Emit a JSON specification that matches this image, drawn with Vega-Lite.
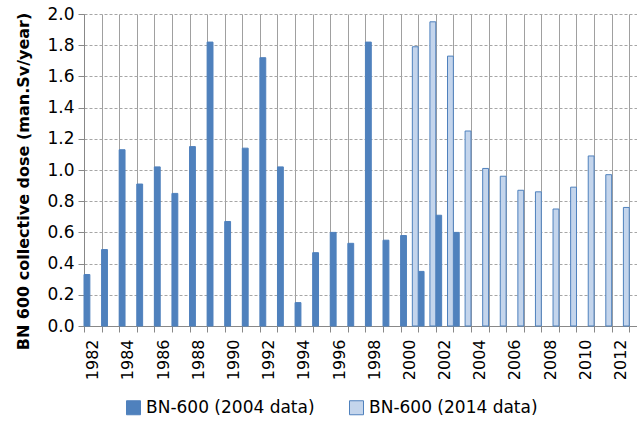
{
  "$schema": "https://vega.github.io/schema/vega-lite/v6.json",
  "width": 553,
  "height": 312,
  "autosize": {"type": "none"},
  "padding": {"left": 84, "top": 14, "right": 0, "bottom": 96},
  "background": "white",
  "config": {"view": {"stroke": null}, "font": "DejaVu Sans"},
  "data": {
    "values": [
      {"year": 1982, "series": "BN-600 (2004 data)", "dose": 0.33},
      {"year": 1983, "series": "BN-600 (2004 data)", "dose": 0.49},
      {"year": 1984, "series": "BN-600 (2004 data)", "dose": 1.13},
      {"year": 1985, "series": "BN-600 (2004 data)", "dose": 0.91},
      {"year": 1986, "series": "BN-600 (2004 data)", "dose": 1.02},
      {"year": 1987, "series": "BN-600 (2004 data)", "dose": 0.85},
      {"year": 1988, "series": "BN-600 (2004 data)", "dose": 1.15},
      {"year": 1989, "series": "BN-600 (2004 data)", "dose": 1.82},
      {"year": 1990, "series": "BN-600 (2004 data)", "dose": 0.67},
      {"year": 1991, "series": "BN-600 (2004 data)", "dose": 1.14},
      {"year": 1992, "series": "BN-600 (2004 data)", "dose": 1.72},
      {"year": 1993, "series": "BN-600 (2004 data)", "dose": 1.02},
      {"year": 1994, "series": "BN-600 (2004 data)", "dose": 0.15},
      {"year": 1995, "series": "BN-600 (2004 data)", "dose": 0.47},
      {"year": 1996, "series": "BN-600 (2004 data)", "dose": 0.60},
      {"year": 1997, "series": "BN-600 (2004 data)", "dose": 0.53},
      {"year": 1998, "series": "BN-600 (2004 data)", "dose": 1.82},
      {"year": 1999, "series": "BN-600 (2004 data)", "dose": 0.55},
      {"year": 2000, "series": "BN-600 (2004 data)", "dose": 0.58},
      {"year": 2001, "series": "BN-600 (2004 data)", "dose": 0.35},
      {"year": 2002, "series": "BN-600 (2004 data)", "dose": 0.71},
      {"year": 2003, "series": "BN-600 (2004 data)", "dose": 0.60},
      {"year": 2000, "series": "BN-600 (2014 data)", "dose": 1.79},
      {"year": 2001, "series": "BN-600 (2014 data)", "dose": 1.95},
      {"year": 2002, "series": "BN-600 (2014 data)", "dose": 1.73},
      {"year": 2003, "series": "BN-600 (2014 data)", "dose": 1.25},
      {"year": 2004, "series": "BN-600 (2014 data)", "dose": 1.01},
      {"year": 2005, "series": "BN-600 (2014 data)", "dose": 0.96},
      {"year": 2006, "series": "BN-600 (2014 data)", "dose": 0.87},
      {"year": 2007, "series": "BN-600 (2014 data)", "dose": 0.86},
      {"year": 2008, "series": "BN-600 (2014 data)", "dose": 0.75},
      {"year": 2009, "series": "BN-600 (2014 data)", "dose": 0.89},
      {"year": 2010, "series": "BN-600 (2014 data)", "dose": 1.09},
      {"year": 2011, "series": "BN-600 (2014 data)", "dose": 0.97},
      {"year": 2012, "series": "BN-600 (2014 data)", "dose": 0.76}
    ]
  },
  "mark": {"type": "bar", "strokeWidth": 1},
  "encoding": {
    "x": {
      "field": "year",
      "type": "ordinal",
      "scale": {
        "domain": [1982,1983,1984,1985,1986,1987,1988,1989,1990,1991,1992,1993,1994,1995,1996,1997,1998,1999,2000,2001,2002,2003,2004,2005,2006,2007,2008,2009,2010,2011,2012],
        "paddingInner": 0,
        "paddingOuter": 0.22,
        "align": 0
      },
      "axis": {
        "title": null,
        "tickBand": "extent",
        "grid": true,
        "gridColor": "#A0A0A0",
        "gridWidth": 1,
        "domainColor": "#888888",
        "tickColor": "#888888",
        "tickSize": 6,
        "labelAngle": -90,
        "labelAlign": "right",
        "labelBaseline": "middle",
        "labelPadding": 7,
        "labelFont": "DejaVu Sans",
        "labelFontSize": 16,
        "labelColor": "#000000",
        "labelExpr": "datum.value % 2 == 0 ? datum.label : ''"
      }
    },
    "xOffset": {
      "field": "series",
      "type": "nominal",
      "scale": {
        "domain": ["BN-600 (2004 data)", "gap", "BN-600 (2014 data)"],
        "paddingInner": 0,
        "paddingOuter": 0
      }
    },
    "y": {
      "field": "dose",
      "type": "quantitative",
      "scale": {"domain": [0, 2], "nice": false},
      "axis": {
        "title": "BN 600 collective dose (man.Sv/year)",
        "titleFont": "DejaVu Sans",
        "titleFontSize": 16,
        "titleFontWeight": "bold",
        "titleColor": "#000000",
        "titleAngle": -90,
        "titleAlign": "center",
        "titleBaseline": "middle",
        "titleX": -61,
        "titleY": 167,
        "titleLimit": 0,
        "values": [0, 0.2, 0.4, 0.6, 0.8, 1.0, 1.2, 1.4, 1.6, 1.8, 2.0],
        "format": ".1f",
        "grid": true,
        "gridColor": "#A6A6A6",
        "gridDash": [3, 2],
        "domainColor": "#888888",
        "tickColor": "#888888",
        "tickSize": 6,
        "labelPadding": 4,
        "labelFont": "DejaVu Sans",
        "labelFontSize": 17,
        "labelColor": "#000000"
      }
    },
    "fill": {
      "field": "series",
      "type": "nominal",
      "scale": {
        "domain": ["BN-600 (2004 data)", "BN-600 (2014 data)"],
        "range": ["#4F81BD", "#C4D5EC"]
      },
      "legend": {
        "title": null,
        "orient": "none",
        "direction": "horizontal",
        "legendX": 41,
        "legendY": 385,
        "padding": 0,
        "symbolType": "square",
        "symbolSize": 196,
        "symbolStrokeWidth": 1,
        "labelFont": "DejaVu Sans",
        "labelFontSize": 17,
        "labelColor": "#000000",
        "labelOffset": 4,
        "labelLimit": 0,
        "columnPadding": 32
      }
    },
    "stroke": {
      "field": "series",
      "type": "nominal",
      "scale": {
        "domain": ["BN-600 (2004 data)", "BN-600 (2014 data)"],
        "range": ["#4F81BD", "#4F81BD"]
      },
      "legend": null
    }
  }
}
